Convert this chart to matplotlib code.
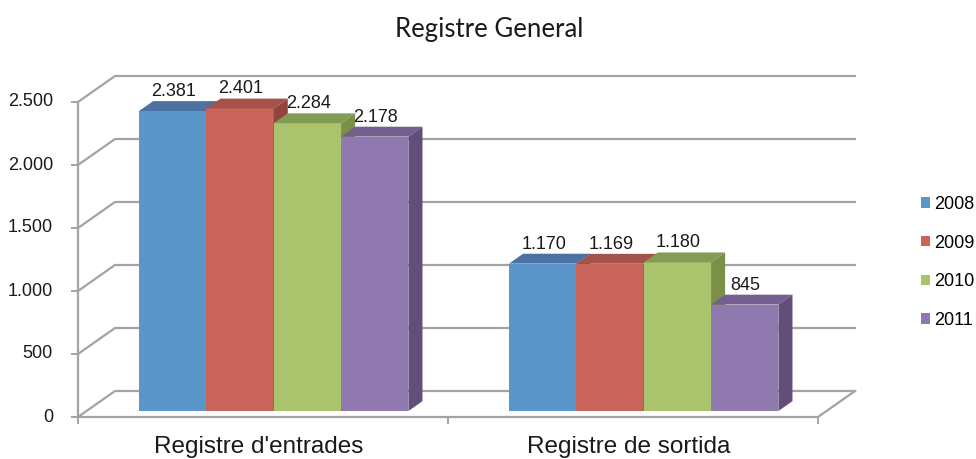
import numpy as np
import matplotlib.pyplot as plt
from matplotlib.patches import Polygon, Patch

categories = ["Registre d'entrades", "Registre de sortida"]
years = ["2008", "2009", "2010", "2011"]
v2008 = [2381, 1170]
v2009 = [2401, 1169]
v2010 = [2284, 1180]
v2011 = [2178, 845]
series = [v2008, v2009, v2010, v2011]
yticks = [0, 500, 1000, 1500, 2000, 2500]

front_c = ["#5B96CA", "#C9645B", "#A9C46C", "#8F79AF"]
top_c = ["#4B72A0", "#A4524A", "#839C55", "#736090"]
side_c = ["#3F6390", "#92443E", "#7A9046", "#634D7A"]

SANS = ["Liberation Sans", "DejaVu Sans"]
grid_c = "#a3a3a3"

# pixel scales of the projection
PX_X = 370.0     # px per category unit
PX_V = 0.126     # px per value unit
DX = 37 / PX_X   # depth shift (x) of the back wall
DV = 26 / PX_V   # depth shift (value) of the back wall
D0, D1 = 0.23, 0.61   # bar depth range

W, H = 976, 459
fig = plt.figure(figsize=(W / 100, H / 100), dpi=100)
ax = fig.add_axes([0, 0, 1, 1])
x_left = -0.5 - 78 / PX_X
ax.set_xlim(x_left, x_left + W / PX_X)
v_bot = -(H - 417) / PX_V
ax.set_ylim(v_bot, v_bot + H / PX_V)
ax.axis("off")


def proj(x, v, d):
    return (x + d * DX, v + d * DV)


# walls: gridlines on the side wall and back wall
for t in yticks:
    pts = [proj(-0.5, t, 0), proj(-0.5, t, 1), proj(1.5, t, 1)]
    ax.plot(*zip(*pts), color=grid_c, lw=1.6, solid_joinstyle="miter", zorder=1)
    ax.plot([-0.5 - 6 / PX_X, -0.5], [t, t], color=grid_c, lw=1.4, zorder=1)
    ax.text(-0.5 - 25 / PX_X, t, f"{t:,}".replace(",", "."), ha="right",
            va="center", fontsize=13, family=SANS, color="#1a1a1a")

# front axes and floor edge
ax.plot([-0.5, -0.5], [0, yticks[-1]], color=grid_c, lw=1.6, zorder=1)
floor = [proj(-0.5, 0, 0), proj(1.5, 0, 0), proj(1.5, 0, 1)]
ax.plot(*zip(*floor), color=grid_c, lw=1.6, zorder=1)
for xc in [-0.5, 0.5, 1.5]:
    ax.plot([xc, xc], [0, -6 / PX_V], color=grid_c, lw=1.4, zorder=1)

# 3D-looking bars, drawn left to right so right neighbours cover side faces
bw = 0.182
for g, cat in enumerate(categories):
    for i, vals in enumerate(series):
        v = vals[g]
        x0 = g - 0.358 + i * bw
        x1 = x0 + bw
        front = [proj(x0, 0, D0), proj(x1, 0, D0), proj(x1, v, D0), proj(x0, v, D0)]
        top = [proj(x0, v, D0), proj(x1, v, D0), proj(x1, v, D1), proj(x0, v, D1)]
        side = [proj(x1, 0, D0), proj(x1, 0, D1), proj(x1, v, D1), proj(x1, v, D0)]
        z = 2 + g * 10 + i
        ax.add_patch(Polygon(front, closed=True, fc=front_c[i], ec="none", zorder=z))
        ax.add_patch(Polygon(top, closed=True, fc=top_c[i], ec="none", zorder=z))
        ax.add_patch(Polygon(side, closed=True, fc=side_c[i], ec="none", zorder=z))
        lx, ly = proj((x0 + x1) / 2, v, D0)
        ax.text(lx + 1 / PX_X, ly + 15 / PX_V, f"{v:,}".replace(",", "."),
                ha="center", va="baseline", fontsize=13, family=SANS,
                color="#1a1a1a", zorder=50)
    ax.text(g - 4 / PX_X, -(453 - 417) / PX_V, cat, ha="center", va="baseline",
            fontsize=17.5, family=SANS, color="#1a1a1a")

fig.text(489 / W, 1 - 37 / H, "Registre General", ha="center", va="baseline",
         fontsize=18.5, family=["Lato", "DejaVu Sans"], color="#1a1a1a")

handles = [Patch(facecolor=c, edgecolor="none") for c in front_c]
fig.legend(handles, years, loc="upper left", bbox_to_anchor=(921 / W, 1 - 196 / H),
           frameon=False, handlelength=0.5, handleheight=0.5, handletextpad=0.2,
           labelspacing=1.2, borderpad=0, borderaxespad=0,
           prop={"family": SANS, "size": 13})

fig.savefig("out.png", dpi=100)
